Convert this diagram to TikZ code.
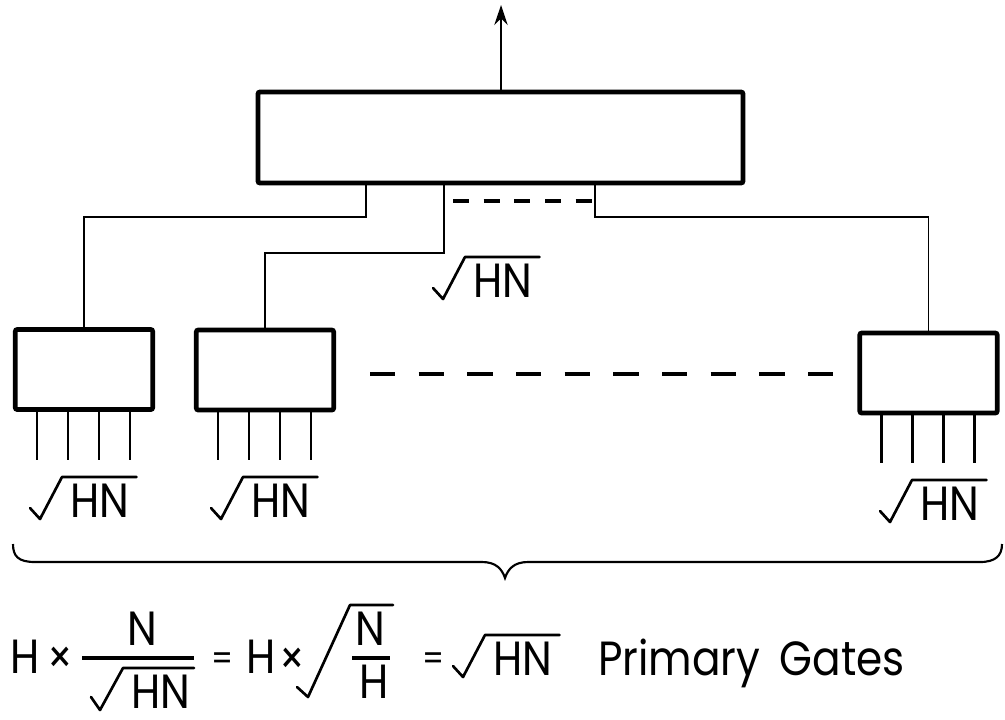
\documentclass[tikz,border=0pt]{standalone}
\usepackage{fontspec}
\setmainfont[FakeStretch=0.88]{Poppins}
\usetikzlibrary{arrows.meta,calc}
\tikzset{
  bigbox/.style={draw, line width=3.6pt, rounded corners=1.5pt, inner sep=0pt},
  gatebox/.style={draw, line width=3.6pt, rounded corners=1.5pt, inner sep=0pt, minimum width=103pt, minimum height=60pt},
  wire/.style={line width=1.4pt},
  pinline/.style={line width=1.8pt},
  dashA/.style={line width=2.4pt, dash pattern=on 12pt off 11pt},
  dashB/.style={line width=2.8pt, dash pattern=on 19pt off 17.5pt},
  txt/.style={font=\fontsize{36}{42}\selectfont, inner sep=0pt, anchor=base west},
  ctxt/.style={txt, anchor=base},
  eqs/.style={font=\fontsize{26}{30}\selectfont, inner sep=0pt, anchor=center},
  times/.style={font=\fontsize{34}{40}\selectfont, inner sep=0pt, anchor=center},
  rad/.style={line width=2pt, line join=round, line cap=round},
  fbar/.style={line width=2.4pt},
}
\newcommand{\drawroot}[1]{%
  \draw[rad] ($(#1.base west)+(-40,-9)$) -- ++(10,11) -- ($(#1.base west)+(-8,-40)$) -- ($(#1.base east)+(7,-40)$);}
\begin{document}
\begin{tikzpicture}[x=0.75pt,y=-0.75pt]
\useasboundingbox (0,0) rectangle (1005,719);
% top box
\node[bigbox, minimum width=363.75pt, minimum height=68.25pt] (top) at (500.5,137.5) {};
\coordinate (out) at (501,5);
\draw[wire, line width=1.6pt, -{Stealth[length=15pt,width=10pt]}] (top.north -| out) -- (out);
% gate boxes
\node[gatebox] (b1) at (84,369.5) {};
\node[gatebox] (b2) at (265,370) {};
\node[gatebox] (b3) at (928.5,373) {};
% connectors
\coordinate (j1) at (366,217);
\coordinate (j2) at (444,253);
\coordinate (j3) at (595,217);
\draw[wire] (top.south -| j1) -- (j1) -| (b1.north);
\draw[wire] (top.south -| j2) -- (j2) -| (b2.north);
\draw[wire] (top.south -| j3) -- (j3) -| (b3.north);
\coordinate (d1) at (453,201);
\coordinate (d2) at (594,201);
\draw[dashA] (d1) -- (d2);
% pins
\foreach \b in {b1,b2,b3}{
  \foreach \dx in {-47,-16,15,46}{
    \draw[pinline] ([xshift=\dx*0.75pt]\b.south) -- ++(0,48);
  }
}
% middle dashed line
\coordinate (m1) at (370,374);
\coordinate (m2) at (833,374);
\draw[dashB] (m1) -- (m2);
% labels
\node[txt] (lm) at (473,297) {HN};
\node[txt] (l1) at (70,517) {HN};
\node[txt] (l2) at (251,517) {HN};
\node[txt] (l3) at (920,520) {HN};
\foreach \n in {lm,l1,l2,l3}{\drawroot{\n}}
% brace
\draw[line width=1.6pt] (13,544) .. controls (13,556) and (18,562) .. (35,562) -- (482,562) .. controls (496,562) and (502,569) .. (505,578) .. controls (508,569) and (514,562) .. (528,562) -- (980,562) .. controls (995,562) and (1002,556) .. (1002,544);
% formula
\node[txt] (fH1) at (10,673) {H};
\node[times] (fx1) at (60,660) {×};
\coordinate (fb1a) at (82,658);
\coordinate (fb1b) at (194,658);
\draw[fbar] (fb1a) -- (fb1b);
\node[ctxt] (fN1) at (142,645) {N};
\node[txt] (fD1) at (131,708) {HN};
\coordinate (rd1a) at (91,697);
\coordinate (rd1b) at (100,710);
\coordinate (rd1c) at (123,668);
\draw[rad] (rd1a) -- (rd1b) -- (rd1c) -- (rd1c -| fb1b);
\node[eqs] (feq1) at (223,662) {=};
\node[txt] (fH2) at (246,673) {H};
\node[times] (fx2) at (292,661) {×};
\coordinate (rd2a) at (297,687);
\coordinate (rd2b) at (308,697);
\coordinate (rd2c) at (350,605);
\coordinate (rd2d) at (393,605);
\draw[rad] (rd2a) -- (rd2b) -- (rd2c) -- (rd2d);
\node[ctxt] (fN2) at (370,645) {N};
\coordinate (fb2a) at (352,658);
\coordinate (fb2b) at (390,658);
\draw[fbar] (fb2a) -- (fb2b);
\node[ctxt] (fH3) at (374,698) {H};
\node[eqs] (feq2) at (434,662) {=};
\node[txt] (fR) at (493,675) {HN};
\drawroot{fR}
\node[txt] (fPG) at (598,675) {Primary\ \,Gates};
\end{tikzpicture}
\end{document}
